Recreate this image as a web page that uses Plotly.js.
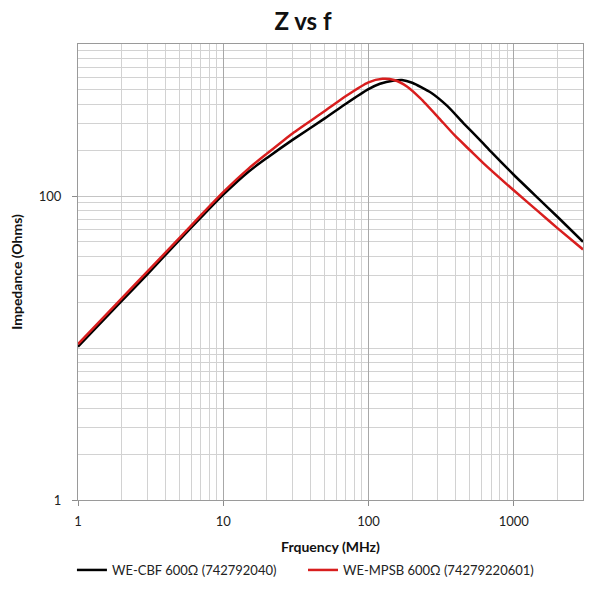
<!DOCTYPE html>
<html>
<head>
<meta charset="utf-8">
<script src="https://cdn.plot.ly/plotly-3.0.1.min.js"></script>
<style>html,body{margin:0;padding:0;background:#fff}#chart{width:600px;height:593px}</style>
</head>
<body>
<div id="chart"></div>
<script>
// WE-CBF 600Ω (742792040): frequency (MHz) and impedance (Ohms)
const freqCBF = [1, 2, 3, 5, 7, 10, 15, 20, 30, 50, 70, 100, 120, 150, 170, 200, 270, 350, 450, 600, 700, 1000, 1500, 2000, 3000];
const zCBF    = [10.2, 20.4, 30.5, 51.5, 72, 102, 145, 178, 234, 324, 405, 505, 548, 575, 580, 556, 478, 390, 302, 228, 195, 138, 95, 73, 50];
// WE-MPSB 600Ω (74279220601): frequency (MHz) and impedance (Ohms)
const freqMPSB = [1, 2, 3, 5, 7, 10, 15, 20, 30, 50, 70, 100, 125, 150, 185, 228, 300, 390, 500, 620, 1000, 1500, 2000, 3000];
const zMPSB    = [10.6, 21.2, 31.8, 53, 74.5, 106, 152, 190, 258, 362, 455, 560, 590, 580, 524, 439, 332, 252, 200, 164, 109, 78, 61.5, 44.5];

const seriesNames = ['WE-CBF 600Ω (742792040)', 'WE-MPSB 600Ω (74279220601)'];
const xTickVals = [1, 10, 100, 1000];
const xTickText = ['1', '10', '100', '1000'];
const xMinor = [2,3,4,5,6,7,8,9,20,30,40,50,60,70,80,90,200,300,400,500,600,700,800,900,2000,3000];
const yTickVals = [1, 100];
const yTickText = ['1', '100'];
const yMinor = [2,3,4,5,6,7,8,9,10,20,30,40,50,60,70,80,90,200,300,400,500,600,700,800,900,1000];

const font = 'Lato, "Open Sans", "DejaVu Sans", sans-serif';

const traces = [
  {x: freqCBF, y: zCBF, name: seriesNames[0], mode: 'lines', type: 'scatter', legend: 'legend',
   line: {color: '#000000', width: 2.5, shape: 'spline', smoothing: 0.6}},
  {x: freqMPSB, y: zMPSB, name: seriesNames[1], mode: 'lines', type: 'scatter', legend: 'legend2',
   line: {color: '#d81e1e', width: 2.5, shape: 'spline', smoothing: 0.6}}
];

const legendBase = {orientation: 'h', yanchor: 'middle', y: -0.1535, xanchor: 'left',
  font: {family: font, size: 13, color: '#222'}, itemwidth: 30, bgcolor: 'rgba(0,0,0,0)'};

const layout = {
  width: 600, height: 593,
  margin: {l: 78, r: 17, t: 44, b: 93, autoexpand: false},
  paper_bgcolor: '#ffffff', plot_bgcolor: '#ffffff',
  font: {family: font, color: '#222', size: 13},
  title: {text: '<b>Z vs f</b>', x: 0.505, xanchor: 'center', y: 0.964, yanchor: 'middle',
          font: {family: font, size: 24, color: '#111'}},
  showlegend: true,
  legend: Object.assign({}, legendBase, {x: -0.012}),
  legend2: Object.assign({}, legendBase, {x: 0.4455}),
  xaxis: {
    type: 'log', range: [0, Math.log10(3000)],
    tickmode: 'array', tickvals: xTickVals, ticktext: xTickText,
    ticks: 'outside', ticklen: 5, tickcolor: '#8c8c8c', ticklabelstandoff: 4,
    showgrid: true, gridcolor: '#a8a8a8', gridwidth: 1,
    minor: {tickmode: 'array', tickvals: xMinor, showgrid: true, gridcolor: '#d2d2d2', gridwidth: 1, ticks: ''},
    showline: true, linecolor: '#9a9a9a', linewidth: 1, mirror: true,
    zeroline: false,
    title: {text: '<b>Frquency (MHz)</b>', standoff: 14, font: {family: font, size: 14, color: '#111'}}
  },
  yaxis: {
    type: 'log', range: [0, 3],
    tickmode: 'array', tickvals: yTickVals, ticktext: yTickText,
    ticks: 'outside', ticklen: 5, tickcolor: '#8c8c8c', ticklabelstandoff: 8,
    showgrid: true, gridcolor: '#c4c4c4', gridwidth: 1,
    minor: {tickmode: 'array', tickvals: yMinor, showgrid: true, gridcolor: '#d2d2d2', gridwidth: 1, ticks: ''},
    showline: true, linecolor: '#9a9a9a', linewidth: 1, mirror: true,
    zeroline: false,
    title: {text: '<b>Impedance (Ohms)</b>', standoff: 12, font: {family: font, size: 14, color: '#111'}}
  }
};

Plotly.newPlot('chart', traces, layout, {displayModeBar: false, staticPlot: true});
</script>
</body>
</html>
